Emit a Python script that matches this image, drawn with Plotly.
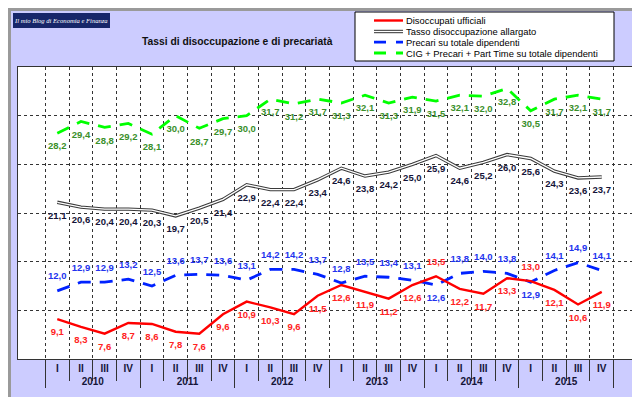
import plotly.graph_objects as go

# ---------------- data ----------------
years = ["2010", "2011", "2012", "2013", "2014", "2015"]
quarters = ["I", "II", "III", "IV"]

disoccupati_ufficiali = [9.1, 8.3, 7.6, 8.7, 8.6, 7.8, 7.6, 9.6,
                         10.9, 10.3, 9.6, 11.5, 12.6, 11.9, 11.2, 12.6,
                         13.5, 12.2, 11.7, 13.3, 13.0, 12.1, 10.6, 11.9]
tasso_allargato = [21.1, 20.6, 20.4, 20.4, 20.3, 19.7, 20.5, 21.4,
                   22.9, 22.4, 22.4, 23.4, 24.6, 23.8, 24.2, 25.0,
                   25.9, 24.6, 25.2, 26.0, 25.6, 24.3, 23.6, 23.7]
precari = [12.0, 12.9, 12.9, 13.2, 12.5, 13.6, 13.7, 13.6,
           13.1, 14.2, 14.2, 13.7, 12.8, 13.5, 13.4, 13.1,
           12.6, 13.8, 14.0, 13.8, 12.9, 14.1, 14.9, 14.1]
cig_precari_pt = [28.2, 29.4, 28.8, 29.2, 28.1, 30.0, 28.7, 29.7,
                  30.0, 31.7, 31.2, 31.7, 31.3, 32.1, 31.3, 31.9,
                  31.5, 32.1, 32.0, 32.8, 30.5, 31.7, 32.1, 31.7]

series_names = ["Disoccupati ufficiali",
                "Tasso disoccupazione allargato",
                "Precari su totale dipendenti",
                "CIG + Precari + Part Time su totale dipendenti"]
title_text = "Tassi di disoccupazione e di precariatà"
blog_text = "Il mio Blog di Economia e Finanza"

# ---------------- geometry helpers ----------------
W, H = 640, 397
L, R, T, B = 10, 7, 59, 46
PW, PH = W - L - R, H - T - B


def px(xp):
    return (xp - L) / PW


def py(yp):
    return (H - B - yp) / PH


def fmt(vals):
    return [f"{v:.1f}".replace(".", ",") for v in vals]


x_year = [y for y in years for q in quarters]
x_q = [q for y in years for q in quarters]
X = [x_year, x_q]
n = len(x_q)

FONT = "Liberation Sans, Arial, sans-serif"
lab_font = dict(family=FONT, size=9.5, weight="bold")
ghost = dict(size=13, color="rgba(0,0,0,0)", line=dict(width=0))

# label placements
red_pos = ["bottom center"] * n
blue_pos = ["top center"] * n
for i in (16, 20):
    red_pos[i] = "top center"
    blue_pos[i] = "bottom center"

fig = go.Figure()

# green
fig.add_trace(go.Scatter(
    x=X, y=cig_precari_pt, mode="lines+markers+text", name=series_names[3],
    line=dict(color="#00ff00", width=2.8, dash="13px,9px"), marker=ghost,
    text=fmt(cig_precari_pt), textposition="bottom center",
    textfont=dict(lab_font, color="#3a8f2a"), cliponaxis=False))

# black double line
fig.add_trace(go.Scatter(
    x=X, y=tasso_allargato, mode="lines+markers+text", name=series_names[1],
    line=dict(color="#3a3a3a", width=3.4), marker=ghost,
    text=fmt(tasso_allargato), textposition="bottom center",
    textfont=dict(lab_font, color="#141438"), cliponaxis=False))
fig.add_trace(go.Scatter(
    x=X, y=tasso_allargato, mode="lines", showlegend=False,
    line=dict(color="#ffffff", width=1.3), hoverinfo="skip"))

# blue
fig.add_trace(go.Scatter(
    x=X, y=precari, mode="lines+markers+text", name=series_names[2],
    line=dict(color="#0022ff", width=2.8, dash="13px,9px"), marker=ghost,
    text=fmt(precari), textposition=blue_pos,
    textfont=dict(lab_font, color="#2233ee"), cliponaxis=False))

# red
fig.add_trace(go.Scatter(
    x=X, y=disoccupati_ufficiali, mode="lines+markers+text",
    name=series_names[0],
    line=dict(color="#ff0000", width=2.4), marker=ghost,
    text=fmt(disoccupati_ufficiali), textposition=red_pos,
    textfont=dict(lab_font, color="#ff2222"), cliponaxis=False))

shapes = []
annotations = []

# outer gray frame
shapes.append(dict(type="rect", xref="paper", yref="paper",
                   x0=px(1.5), x1=px(638.5), y0=py(395.5), y1=py(1.5),
                   line=dict(color="#9a9a9a", width=3), layer="above"))

# blog badge
shapes.append(dict(type="rect", xref="paper", yref="paper",
                   x0=px(5), x1=px(102), y0=py(20), y1=py(5),
                   fillcolor="#17266a", line=dict(width=0)))
annotations.append(dict(xref="paper", yref="paper", x=px(53.5), y=py(12.5),
                        xanchor="center", yanchor="middle", showarrow=False,
                        text=blog_text,
                        font=dict(family="Liberation Serif, serif", size=6.6,
                                  style="italic", color="#ffffff")))

# title
annotations.append(dict(xref="paper", yref="paper", x=px(229), y=py(33),
                        xanchor="center", yanchor="middle", showarrow=False,
                        text=title_text,
                        font=dict(family=FONT, size=10.3, weight="bold",
                                  color="#111111")))

# legend box (manual)
shapes.append(dict(type="rect", xref="paper", yref="paper",
                   x0=px(347), x1=px(606), y0=py(53), y1=py(4),
                   fillcolor="#ffffff", line=dict(color="#000000", width=1)))
rows = [12.5, 23.5, 34.2, 45]
lx0, lx1 = px(366), px(395)
styles = [
    [dict(color="#ff0000", width=2.4)],
    [dict(color="#3a3a3a", width=3.4), dict(color="#ffffff", width=1.3)],
    [dict(color="#0022ff", width=2.8, dash="12px,10px")],
    [dict(color="#00ff00", width=2.8, dash="12px,10px")],
]
for name, ry, st in zip(series_names, rows, styles):
    for s in st:
        shapes.append(dict(type="line", xref="paper", yref="paper",
                           x0=lx0, x1=lx1, y0=py(ry), y1=py(ry), line=s))
    annotations.append(dict(xref="paper", yref="paper", x=px(396), y=py(ry),
                            xanchor="left", yanchor="middle", showarrow=False,
                            text=name,
                            font=dict(family=FONT, size=9.4, color="#000000")))

fig.update_layout(
    width=W, height=H,
    margin=dict(l=L, r=R, t=T, b=B, pad=0),
    paper_bgcolor="#ccccff", plot_bgcolor="#ffffff",
    showlegend=False,
    shapes=shapes, annotations=annotations,
    xaxis=dict(type="multicategory", showgrid=True, gridcolor="#333333",
               griddash="dot", gridwidth=1, tickson="boundaries",
               ticks="outside", ticklen=21, tickcolor="#333333",
               showline=True, linecolor="#333333", mirror=True,
               showdividers=True, dividercolor="#333333", dividerwidth=1,
               tickfont=dict(family=FONT, size=10, weight="bold",
                             color="#141438")),
    yaxis=dict(range=[5, 35], tick0=5, dtick=5, showgrid=True,
               gridcolor="#333333", griddash="dot", gridwidth=1,
               showticklabels=False, ticks="", zeroline=False,
               showline=True, linecolor="#333333", mirror=True),
)

fig.write_html("out.html")
